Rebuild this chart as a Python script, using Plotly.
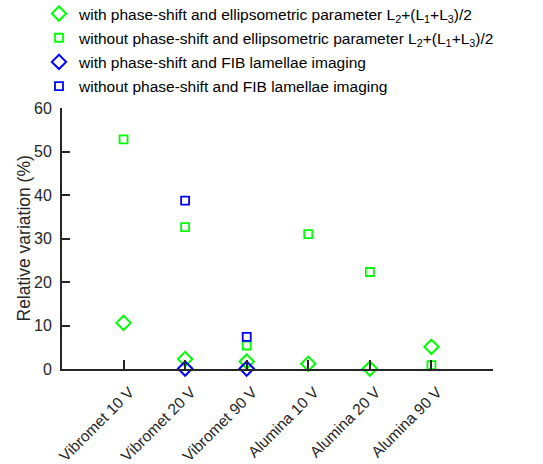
import plotly.graph_objects as go

categories = ["Vibromet 10 V", "Vibromet 20 V", "Vibromet 90 V", "Alumina 10 V", "Alumina 20 V", "Alumina 90 V"]
x_pos = [1, 2, 3, 4, 5, 6]

with_ps_ellip = [10.6, 2.3, 1.7, 1.2, 0.1, 5.1]
without_ps_ellip = [52.8, 32.6, 5.4, 31.0, 22.3, 0.9]
fib_cats = [2, 3]
with_ps_fib = [0.1, 0.1]
without_ps_fib = [38.7, 7.4]

names = [
    "with phase-shift and ellipsometric parameter L<sub>2</sub>+(L<sub>1</sub>+L<sub>3</sub>)/2",
    "without phase-shift and ellipsometric parameter L<sub>2</sub>+(L<sub>1</sub>+L<sub>3</sub>)/2",
    "with phase-shift and FIB lamellae imaging",
    "without phase-shift and FIB lamellae imaging",
]
y_title = "Relative variation (%)"

GREEN = "#00ff00"
BLUE = "#0000ff"

fig = go.Figure()
fig.add_trace(go.Scatter(x=x_pos, y=with_ps_ellip, mode="markers", name=names[0], legendgroup="a",
                         cliponaxis=False,
                         marker=dict(symbol="diamond-open", size=11, color=GREEN, line=dict(width=2, color=GREEN))))
fig.add_trace(go.Scatter(x=x_pos, y=without_ps_ellip, mode="markers", name=names[1], legendgroup="b",
                         cliponaxis=False,
                         marker=dict(symbol="square-open", size=8, color=GREEN, line=dict(width=1.8, color=GREEN))))
fig.add_trace(go.Scatter(x=fib_cats, y=with_ps_fib, mode="markers", name=names[2], legendgroup="c",
                         cliponaxis=False,
                         marker=dict(symbol="diamond-open", size=11, color=BLUE, line=dict(width=2, color=BLUE))))
fig.add_trace(go.Scatter(x=fib_cats, y=without_ps_fib, mode="markers", name=names[3], legendgroup="d",
                         cliponaxis=False,
                         marker=dict(symbol="square-open", size=8, color=BLUE, line=dict(width=1.8, color=BLUE))))

AX = "#262626"
fig.update_layout(
    width=543, height=464,
    margin=dict(l=62, r=50, t=108, b=95, autoexpand=False),
    paper_bgcolor="white", plot_bgcolor="white",
    font=dict(family="Arial, Liberation Sans, sans-serif", size=16, color=AX),
    showlegend=True,
    legend=dict(x=(39 - 62) / 431, y=1 + (108 + 3) / 261, xanchor="left", yanchor="top",
                bgcolor="rgba(0,0,0,0)", font=dict(size=15.5, color="#000000"),
                tracegroupgap=1, itemwidth=30),
    xaxis=dict(range=[0, 7], tickmode="array", tickvals=x_pos, ticktext=categories,
               tickangle=-45, ticks="inside", ticklen=9, tickwidth=2, tickcolor=AX, automargin=False,
               ticklabelstandoff=6, ticklabelshift=6,
               showline=True, linewidth=2, linecolor=AX, showgrid=False, zeroline=False,
               tickfont=dict(size=15.5, color=AX)),
    yaxis=dict(range=[0, 60], tickvals=[0, 10, 20, 30, 40, 50, 60], ticks="inside", ticklen=8,
               tickwidth=2, tickcolor=AX, showline=True, linewidth=2, linecolor=AX, automargin=False,
               ticklabelstandoff=5,
               showgrid=False, zeroline=False, tickfont=dict(size=16, color=AX)),
    annotations=[dict(text=y_title, xref="paper", yref="paper", x=(23 - 62) / 431, y=0.5,
                      xanchor="center", yanchor="middle", textangle=-90, showarrow=False,
                      font=dict(size=17.5, color=AX))],
)

fig.write_html("out.html", config={"displayModeBar": False},
               post_script="document.body.style.margin='0px';")
